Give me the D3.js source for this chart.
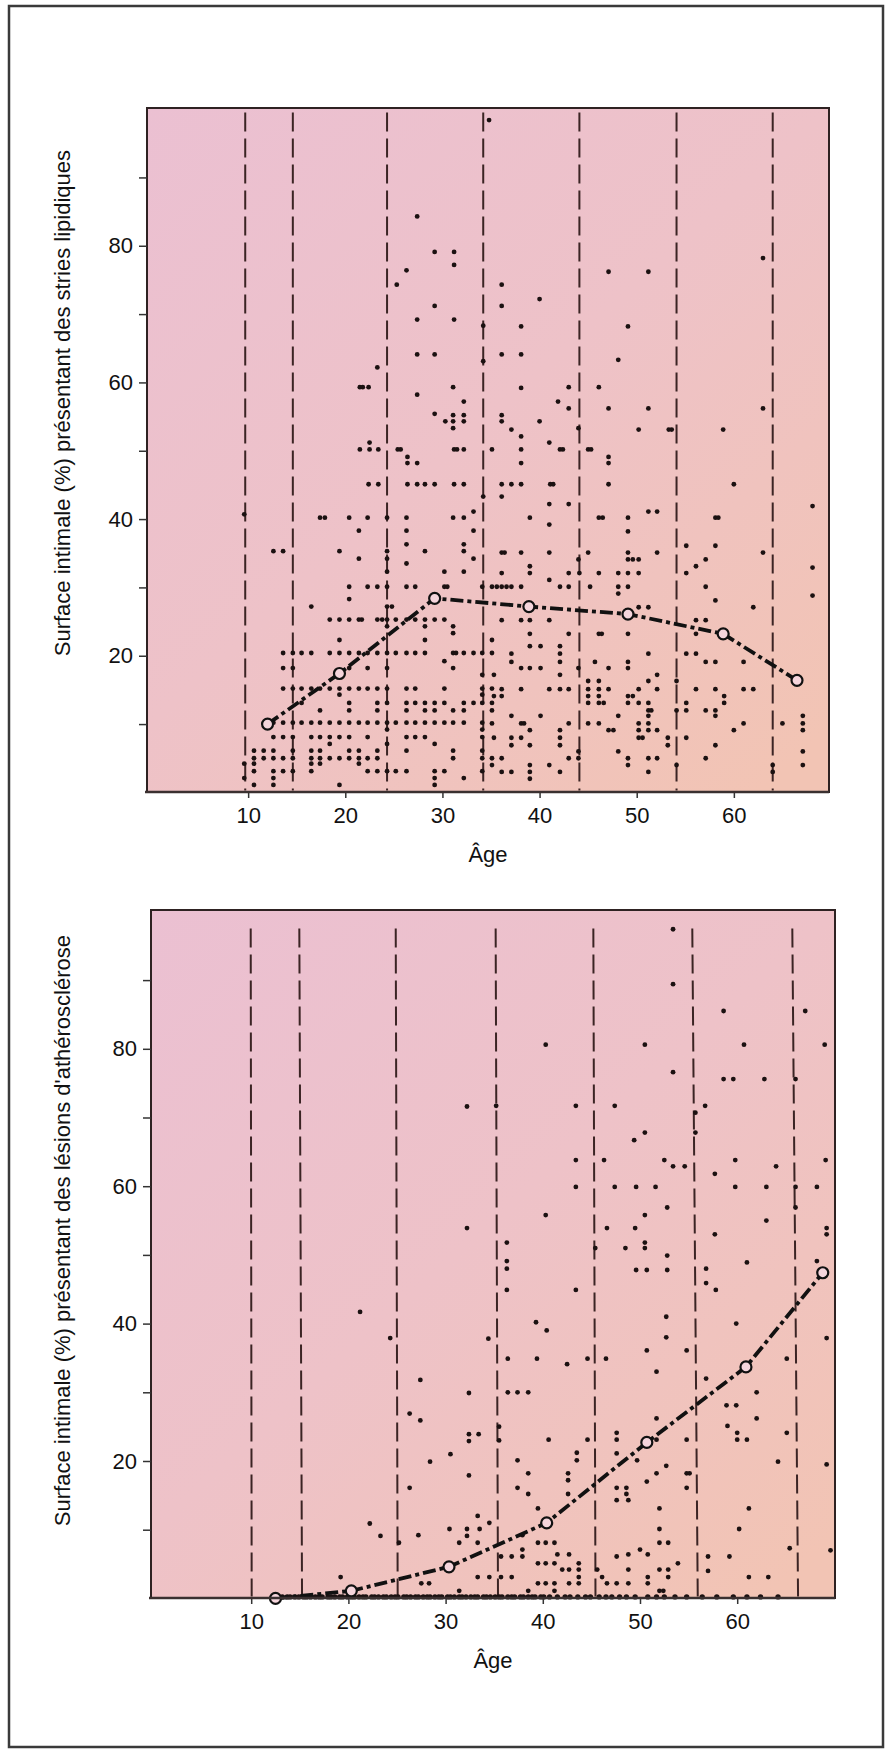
<!DOCTYPE html>
<html>
<head>
<meta charset="utf-8">
<script src="https://cdn.jsdelivr.net/npm/d3@7"></script>
<style>
  body { margin: 0; background: #fff; }
  text { font-family: "Liberation Sans", Arial, Helvetica, sans-serif; fill: #111; }
</style>
</head>
<body>
<script>
const width = 891, height = 1753;

// ---- data ----
const xTicks = [10, 20, 30, 40, 50, 60];
const yTicks = [10, 20, 30, 40, 50, 60, 70, 80, 90];

// top panel: fatty streaks
const stripsLabel = "Surface intimale (%) présentant des stries lipidiques";
const stripsBounds = [9.7, 14.6, 24.3, 34.2, 44.1, 54.1, 64.0];
const stripsMeans = [[12.0, 10.0], [19.4, 17.4], [29.2, 28.4], [38.9, 27.2], [49.1, 26.1], [58.9, 23.2], [66.5, 16.4]];
const stripsPoints = [
  [34.8,98.4],[27.4,84.3],[29.2,79.1],[31.2,79.1],[31.2,77.2],[26.3,76.4],[25.3,74.3],[29.2,71.2],[27.4,69.2],[31.2,69.2],
  [34.2,68.3],[27.4,64.1],[29.2,64.1],[34.2,63.1],[23.3,62.2],[21.5,59.3],[21.8,59.3],[22.4,59.3],[27.4,58.2],[31.1,59.3],
  [32.2,57.2],[29.2,55.4],[30.3,54.3],[31.1,55.2],[31.1,54.3],[32.2,55.2],[32.2,54.3],[31.1,53.3],[21.5,50.2],[22.5,51.2],
  [22.5,50.2],[23.4,50.2],[25.4,50.2],[25.7,50.2],[31.2,50.2],[31.5,50.2],[32.2,50.2],[35.1,50.2],[26.4,49.1],[26.4,48.2],
  [27.4,48.2],[22.4,45.1],[23.4,45.1],[26.4,45.1],[27.4,45.1],[28.2,45.1],[29.2,45.1],[31.2,45.1],[32.2,45.1],[34.2,43.3],
  [63.0,78.2],[47.1,76.2],[51.2,76.2],[36.1,74.3],[36.1,71.2],[40.0,72.2],[38.1,68.2],[49.1,68.2],[36.1,64.1],[38.1,64.1],
  [48.1,63.3],[38.1,59.2],[43.0,59.3],[46.1,59.3],[41.9,57.2],[43.0,56.2],[47.1,56.2],[51.2,56.2],[63.0,56.2],[36.1,55.2],
  [36.1,54.3],[40.0,54.3],[37.1,53.1],[44.0,53.3],[50.2,53.1],[53.3,53.1],[53.6,53.1],[58.9,53.1],[38.1,52.1],[38.1,50.2],
  [41.0,51.2],[42.1,50.2],[42.4,50.2],[45.0,50.2],[45.3,50.2],[47.1,49.1],[47.1,48.2],[38.1,48.2],[36.1,45.1],[37.1,45.1],
  [38.1,45.1],[41.1,45.1],[41.4,45.1],[47.1,45.1],[60.0,45.1],[36.1,43.3],
  [41.0,42.2],[43.0,42.2],[51.2,41.1],[52.1,41.1],[68.1,41.9],[33.2,41.1],[9.6,40.7],
  [17.4,40.2],[17.9,40.2],[20.4,40.2],[22.3,40.2],[24.3,40.2],[26.3,40.2],[31.1,40.2],[32.2,40.2],
  [39.0,40.2],[46.1,40.2],[46.5,40.2],[49.1,40.2],[58.1,40.2],[58.4,40.2],[41.0,39.2],
  [21.4,38.3],[26.3,38.3],[33.2,38.3],[49.1,38.2],[26.3,36.3],[32.2,36.3],[55.1,36.1],[58.1,36.1],
  [12.6,35.3],[13.6,35.3],[19.4,35.3],[24.3,35.3],[28.2,35.3],[32.2,35.3],
  [36.1,35.1],[36.4,35.1],[38.1,35.1],[41.0,35.1],[45.0,35.1],[49.1,35.1],[52.1,35.1],[63.0,35.1],
  [21.4,34.2],[24.3,34.2],[33.2,34.2],[44.0,34.1],[49.1,34.1],[49.6,34.1],[50.2,34.1],[57.1,34.1],
  [26.3,33.5],[39.0,33.1],[56.1,33.1],[68.1,32.9],
  [24.3,32.3],[30.2,32.3],[32.2,32.3],[36.1,32.1],[39.0,32.1],[43.0,32.1],[44.1,32.1],[46.1,32.1],[48.1,32.1],[49.1,32.1],[50.2,32.1],[55.1,32.1],
  [41.0,31.1],
  [20.4,30.1],[22.3,30.1],[23.3,30.1],[24.3,30.1],[26.3,30.1],[27.2,30.1],[30.2,30.1],[30.5,30.1],[34.1,30.1],[35.1,30.1],
  [35.6,30.1],[36.1,30.1],[36.6,30.1],[37.1,30.1],[38.1,30.1],[42.1,30.1],[43.0,30.1],[45.2,30.1],[48.1,30.1],[49.1,30.1],[57.1,30.1],
  [48.1,29.1],[68.1,28.8],[20.4,28.3],[58.1,28.1],
  [16.5,27.2],[24.3,27.2],[24.8,27.2],[50.2,27.1],[51.2,27.1],[62.0,27.1],
  [18.4,25.3],[19.4,25.3],[20.4,25.3],[21.4,25.3],[21.7,25.3],[23.3,25.3],[23.8,25.3],[24.3,25.3],[25.2,25.3],[26.3,25.3],
  [27.2,25.3],[28.2,25.3],[29.2,25.3],[30.2,25.3],[36.1,25.2],[38.1,25.2],[39.0,25.2],[41.0,25.2],[56.1,25.2],[57.1,25.2],
  [24.3,24.3],[28.2,24.3],[31.1,24.3],[31.1,23.3],
  [39.0,23.2],[43.0,23.2],[46.1,23.2],[46.4,23.2],[49.1,23.2],[56.1,23.2],
  [19.4,22.3],[28.2,22.3],[35.1,22.3],[39.0,21.4],[40.1,21.4],[42.1,21.4],
  [13.6,20.4],[14.6,20.4],[15.5,20.4],[16.5,20.4],[18.4,20.4],[19.4,20.4],[20.4,20.4],[21.4,20.4],[22.3,20.4],[23.3,20.4],
  [24.3,20.4],[25.2,20.4],[26.3,20.4],[27.2,20.4],[28.2,20.4],[31.1,20.4],[31.4,20.4],[32.2,20.4],[33.2,20.4],[34.1,20.4],[35.1,20.4],
  [37.1,20.3],[42.1,20.3],[51.2,20.3],[55.1,20.3],[56.1,20.3],
  [30.2,19.2],[37.1,19.1],[42.1,19.1],[45.7,19.1],[49.1,19.1],[57.1,19.1],[58.1,19.1],[61.0,19.1],
  [13.6,18.2],[14.6,18.2],[20.4,18.2],[22.3,18.2],[24.3,18.2],[31.1,18.2],
  [38.1,18.2],[39.0,18.2],[40.1,18.2],[44.0,18.2],[47.1,18.2],[49.1,18.2],
  [34.1,17.2],[35.3,17.2],[42.1,17.2],[52.1,17.2],[45.0,16.3],[46.1,16.3],[51.2,16.3],[54.1,16.3],
  [13.6,15.2],[14.6,15.2],[15.5,15.2],[16.5,15.2],[17.4,15.2],[18.4,15.2],[19.4,15.2],[20.4,15.2],[21.4,15.2],[22.3,15.2],
  [23.3,15.2],[24.3,15.2],[26.3,15.2],[27.2,15.2],[30.2,15.2],[34.1,15.2],[35.1,15.2],
  [36.1,15.1],[38.1,15.1],[41.0,15.1],[42.1,15.1],[43.0,15.1],[45.0,15.1],[46.1,15.1],[47.1,15.1],[50.2,15.1],[52.1,15.1],
  [56.1,15.1],[58.1,15.1],[61.0,15.1],[62.0,15.1],
  [19.4,14.3],[34.1,14.3],[35.3,14.1],[36.1,14.1],[45.0,14.1],[46.1,14.1],[49.1,14.1],[49.6,14.1],[59.0,14.1],
  [15.5,13.1],[20.4,13.1],[23.3,13.1],[24.3,13.1],[26.3,13.1],[27.2,13.1],[28.2,13.1],[29.2,13.1],[30.2,13.1],[32.2,13.1],
  [33.2,13.1],[34.1,13.1],[35.1,13.1],[45.0,13.1],[46.1,13.1],[46.6,13.1],[49.1,13.1],[50.2,13.1],[51.2,13.1],[55.1,13.1],[59.0,13.1],
  [17.4,12.0],[20.4,12.0],[23.3,12.0],[26.3,12.0],[28.2,12.0],[29.2,12.0],[31.1,12.0],[32.2,12.0],
  [35.1,12.0],[51.2,12.0],[51.5,12.0],[54.1,12.0],[55.1,12.0],[57.1,12.0],[58.1,12.0],
  [37.1,11.2],[40.1,11.2],[48.1,11.2],[51.2,11.2],[58.1,11.2],[67.1,11.2],
  [12.6,10.2],[13.6,10.2],[14.6,10.2],[15.5,10.2],[16.5,10.2],[17.4,10.2],[18.4,10.2],[19.4,10.2],[20.4,10.2],[21.4,10.2],
  [22.3,10.2],[23.3,10.2],[24.3,10.2],[25.2,10.2],[26.3,10.2],[27.2,10.2],[28.2,10.2],[29.2,10.2],[30.2,10.2],[31.1,10.2],
  [32.2,10.2],[34.1,10.2],[35.1,10.1],[38.1,10.1],[38.4,10.1],[43.0,10.1],[45.0,10.1],[46.1,10.1],[50.2,10.1],[51.2,10.1],
  [61.0,10.1],[65.0,10.1],[67.1,10.1],
  [24.3,9.2],[34.1,9.2],[39.0,9.1],[42.1,9.1],[47.1,9.1],[47.6,9.1],[50.2,9.1],[51.2,9.1],[52.1,9.1],[60.0,9.1],[67.1,9.1],
  [12.6,8.1],[13.6,8.1],[14.6,8.1],[16.5,8.1],[17.4,8.1],[18.4,8.1],[19.4,8.1],[20.4,8.1],[22.3,8.1],[26.3,8.1],[27.2,8.1],
  [28.2,8.1],[34.1,8.1],[35.3,8.0],[37.1,8.0],[38.1,8.0],[42.1,8.0],[50.2,8.0],[50.6,8.0],[53.2,8.0],[55.1,8.0],
  [18.4,7.1],[24.3,7.1],[29.2,7.1],[37.1,6.9],[39.0,6.9],[42.1,6.9],[53.2,6.9],[58.1,6.9],
  [10.6,6.1],[11.6,6.1],[12.6,6.1],[14.6,6.1],[16.5,6.1],[17.4,6.1],[20.4,6.1],[21.4,6.1],[23.3,6.1],[26.3,6.1],[31.1,6.1],
  [34.1,6.1],[44.0,6.0],[48.1,6.0],[67.1,6.0],
  [10.6,5.0],[11.6,5.0],[12.6,5.0],[13.6,5.0],[14.6,5.0],[16.5,5.0],[17.4,5.0],[18.4,5.0],[19.4,5.0],[20.4,5.0],[21.4,5.0],
  [22.3,5.0],[23.3,5.0],[31.1,5.0],[34.1,5.0],[35.1,5.0],[36.1,5.0],[43.0,5.0],[44.0,5.0],[49.1,5.0],[51.2,5.0],[52.1,5.0],[57.1,5.0],
  [9.6,4.2],[10.6,4.2],[16.5,4.2],[17.4,4.2],[21.4,4.2],[35.1,4.0],[39.0,4.0],[41.0,4.0],[49.1,4.0],[54.1,4.0],[64.0,4.0],[67.1,4.0],
  [10.6,3.1],[12.6,3.1],[13.6,3.1],[14.6,3.1],[16.5,3.1],[22.3,3.1],[23.3,3.1],[24.3,3.1],[25.2,3.1],[26.3,3.1],[29.2,3.1],
  [30.2,3.1],[34.1,3.1],[36.1,3.0],[37.1,3.0],[39.0,3.0],[42.1,3.0],[51.2,3.0],[64.0,3.0],
  [9.6,2.1],[12.6,2.1],[29.2,2.1],[32.2,2.1],[39.0,2.0],[10.6,1.1],[12.6,1.1],[19.4,1.1],[29.2,1.1]
];

// bottom panel: atherosclerotic lesions
const lesionsLabel = "Surface intimale (%) présentant des lésions d'athérosclérose";
const lesionsBoundsTop = [9.95, 14.95, 24.87, 35.15, 45.2, 55.38, 65.67];
const lesionsBoundsBottom = [10.05, 15.23, 25.07, 35.39, 45.42, 55.94, 66.26];
const lesionsMeans = [[12.5, 0], [20.3, 1.1], [30.35, 4.6], [40.4, 11.0], [50.7, 22.7], [60.9, 33.7], [68.8, 47.4]];
const lesionsPoints = [
  [32.2,71.6],[35.2,71.7],[32.2,53.9],[21.2,41.7],[24.3,37.9],[34.4,37.8],[27.4,31.8],[32.4,29.9],[26.3,26.9],[27.4,25.9],
  [32.4,23.9],[33.4,23.9],[32.4,22.9],[35.5,25.0],[35.5,23.0],[28.4,19.9],[30.5,21.0],[32.4,17.9],[26.3,16.1],
  [53.4,97.4],[53.4,89.4],[58.6,85.5],[67.0,85.5],[40.3,80.6],[50.5,80.6],[60.7,80.6],[69.0,80.6],[53.4,76.6],[58.6,75.6],
  [59.6,75.6],[62.8,75.6],[66.0,75.6],[43.4,71.7],[47.4,71.7],[56.7,71.7],[55.7,70.7],[50.5,67.8],[49.4,66.7],[55.7,67.8],
  [43.4,63.8],[46.3,63.8],[52.5,63.8],[53.4,62.9],[54.6,62.9],[59.8,63.8],[64.0,62.9],[69.1,63.8],[57.7,61.8],[43.4,59.9],
  [47.4,59.9],[49.6,59.9],[51.6,59.9],[59.8,59.9],[63.0,59.9],[66.0,59.9],[68.2,59.9],[52.8,56.9],[40.3,55.8],[50.5,55.8],
  [66.0,56.9],[63.0,55.0],[46.6,53.9],[49.5,53.9],[69.2,53.9],[69.2,53.0],[57.7,53.0],[36.3,51.8],[50.5,51.8],[45.4,51.0],
  [48.5,51.0],[50.5,51.0],[36.3,49.1],[36.3,48.0],[52.8,49.9],[61.0,48.9],[49.6,47.8],[50.7,47.8],[52.8,47.8],[56.8,48.0],
  [56.8,45.9],[68.2,49.1],[36.3,44.9],[43.4,44.9],[57.8,44.9],
  [52.7,41.0],[39.3,40.2],[40.4,39.0],[59.9,40.0],[52.7,38.0],[69.2,37.9],[36.4,34.9],[39.4,34.9],[44.6,34.9],[46.5,34.9],
  [42.5,34.1],[50.7,36.1],[54.8,36.1],[51.7,33.0],[56.8,32.0],[36.4,30.0],[37.4,30.0],[38.5,30.0],[62.0,30.0],[58.9,28.1],
  [59.9,28.1],[65.1,34.9],[51.7,26.2],[62.0,26.2],[59.0,25.1],[40.6,23.1],[44.6,23.1],[47.6,24.1],[47.6,23.1],[51.7,23.1],
  [54.8,23.1],[60.0,24.1],[60.0,23.1],[61.0,23.1],[65.1,24.1],[43.5,21.2],[43.5,20.1],[47.6,21.1],[49.7,20.1],[37.4,20.1],
  [64.2,19.9],[52.7,19.3],[69.2,19.5],[38.5,18.2],[42.6,18.2],[42.6,17.2],[51.7,18.2],[54.8,18.2],[55.1,18.2],[50.7,17.0],
  [37.4,16.1],[38.5,15.2],[42.6,15.2],[47.6,16.1],[48.6,16.1],[48.6,15.2],[54.8,16.1],
  [22.2,10.9],[23.3,9.1],[27.2,9.2],[25.2,8.1],[30.4,10.1],[32.2,10.1],[33.5,10.1],[32.2,9.1],[33.3,8.1],[31.4,8.1],
  [33.3,12.0],[34.5,11.0],[39.5,13.1],[47.6,14.3],[48.8,14.3],[52.0,13.1],[61.2,13.1],[60.2,10.1],[52.0,10.1],[52.0,8.1],
  [52.9,8.1],[65.4,7.3],[69.6,7.0],[57.0,6.1],[59.2,6.1],[57.0,4.0],[61.2,3.1],[63.2,3.1],[50.0,7.1],[48.8,6.4],
  [50.8,6.4],[47.6,6.1],[53.9,5.1],[48.8,4.2],[52.0,4.2],[52.9,4.2],[50.8,3.1],[52.9,3.1],[50.8,2.2],[48.8,2.2],
  [52.0,1.1],[52.4,1.1],[39.5,8.1],[40.3,8.1],[41.2,8.1],[37.9,9.2],[37.9,7.1],[35.7,6.1],[36.8,6.1],[37.9,6.1],
  [41.5,6.4],[42.7,6.4],[43.7,5.1],[43.7,4.2],[43.7,3.1],[42.0,4.2],[42.7,4.2],[45.6,4.2],[39.5,5.1],[40.3,5.1],
  [41.2,5.1],[33.3,3.1],[34.5,3.1],[35.7,3.1],[36.8,3.1],[39.5,2.2],[40.3,2.2],[41.2,2.2],[42.7,2.2],[43.7,2.2],
  [46.6,2.2],[47.6,2.2],[27.5,2.2],[28.3,2.2],[19.2,3.1],[38.5,1.1],[41.2,1.1],[46.1,3.1],[31.4,1.1]
];
// the dense band of zero-lesion cases lying on the age axis
const lesionsZeroAges = [
  12.8,13.2,13.7,14.0,14.5,14.9,15.4,15.7,16.1,16.6,17.0,17.3,17.9,18.2,18.6,19.1,19.4,19.9,20.3,20.6,
  21.1,21.5,21.8,22.4,22.7,23.1,23.6,23.9,24.4,24.8,25.1,25.7,26.0,26.4,26.9,27.2,27.7,28.1,28.4,28.9,
  29.3,29.6,30.2,30.5,30.9,31.4,31.7,32.1,32.6,33.0,33.3,33.9,34.2,34.6,35.1,35.5,35.8,36.4,36.8,37.1,
  37.7,38.0,38.5,38.9,39.2,39.8,40.1,40.7,41.5,42.3,42.8,43.6,44.4,44.9,45.8,46.5,47.1,47.9,48.6,49.5,
  50.8,51.7,52.5,53.6,54.8,56.4,57.9,59.6,61.0,62.4,64.2
];

// ---- drawing ----
const svg = d3.select("body").append("svg")
  .attr("width", width)
  .attr("height", height);

const defs = svg.append("defs");
const grad = defs.append("linearGradient")
  .attr("id", "paper")
  .attr("x1", 0).attr("y1", 0).attr("x2", 0.9).attr("y2", 1);
grad.append("stop").attr("offset", "0%").attr("stop-color", "#ebc0d2");
grad.append("stop").attr("offset", "50%").attr("stop-color", "#eec2c8");
grad.append("stop").attr("offset", "100%").attr("stop-color", "#f2c4b4");

// outer frame
svg.append("rect")
  .attr("x", 9).attr("y", 6)
  .attr("width", 874).attr("height", 1741)
  .attr("fill", "none")
  .attr("stroke", "#3a3a3a")
  .attr("stroke-width", 2.5);

function drawPanel(p) {
  const x = d3.scaleLinear().domain([0, 70]).range(p.xRange);
  const y = d3.scaleLinear().domain([0, 100]).range(p.yRange);
  const g = svg.append("g");

  // plot background
  g.append("rect")
    .attr("x", p.box[0]).attr("y", p.box[1])
    .attr("width", p.box[2] - p.box[0]).attr("height", p.box[3] - p.box[1])
    .attr("fill", "url(#paper)")
    .attr("stroke", "#2e2222")
    .attr("stroke-width", 2);

  // age-group boundaries
  g.selectAll(".bound")
    .data(p.boundsTop.map((a, i) => [a, p.boundsBottom[i]]))
    .enter().append("line")
    .attr("x1", d => x(d[0])).attr("y1", y(p.boundTopValue))
    .attr("x2", d => x(d[1])).attr("y2", y(0) - 2)
    .attr("stroke", "#3b2424")
    .attr("stroke-width", 2)
    .attr("stroke-dasharray", "19,7");

  // individual cases
  g.selectAll(".dot")
    .data(p.points)
    .enter().append("circle")
    .attr("cx", d => x(d[0]))
    .attr("cy", d => y(d[1]))
    .attr("r", 2.4)
    .attr("fill", "#1b1111");

  if (p.zeroAges) {
    g.selectAll(".zero")
      .data(p.zeroAges)
      .enter().append("circle")
      .attr("cx", d => x(d))
      .attr("cy", y(0) - 1.5)
      .attr("r", 2.7)
      .attr("fill", "#1b1111");
  }

  // mean curve
  const line = d3.line().x(d => x(d[0])).y(d => y(d[1]));
  g.append("path")
    .datum(p.means)
    .attr("d", line)
    .attr("fill", "none")
    .attr("stroke", "#111")
    .attr("stroke-width", 3.8)
    .attr("stroke-dasharray", "13,4,4,4");

  g.selectAll(".mean")
    .data(p.means)
    .enter().append("circle")
    .attr("cx", d => x(d[0]))
    .attr("cy", d => y(d[1]))
    .attr("r", 5.5)
    .attr("fill", "#f5d5dc")
    .attr("stroke", "#111")
    .attr("stroke-width", 2.2);

  // axes
  const yAxis = d3.axisLeft(y)
    .tickValues(yTicks)
    .tickSize(8)
    .tickSizeOuter(0)
    .tickPadding(6)
    .tickFormat(d => d % 20 === 0 ? d : "");
  const ya = g.append("g")
    .attr("transform", `translate(${p.box[0]},0)`)
    .call(yAxis);
  ya.select(".domain").remove();
  ya.selectAll(".tick line").attr("stroke", "#333").attr("stroke-width", 1.5);
  ya.selectAll("text").attr("font-size", 22).attr("fill", "#111");

  const xAxis = d3.axisBottom(x)
    .tickValues(xTicks)
    .tickSize(6)
    .tickSizeOuter(0)
    .tickPadding(9);
  const xa = g.append("g")
    .attr("transform", `translate(0,${p.box[3]})`)
    .call(xAxis);
  xa.select(".domain").remove();
  xa.selectAll(".tick line").attr("stroke", "#333").attr("stroke-width", 1.5);
  xa.selectAll("text").attr("font-size", 22).attr("fill", "#111");

  // axis baseline a little heavier, like the print
  g.append("line")
    .attr("x1", p.box[0] - 2).attr("x2", p.box[2])
    .attr("y1", p.box[3]).attr("y2", p.box[3])
    .attr("stroke", "#3a3030").attr("stroke-width", 2.5);

  g.append("text")
    .attr("x", (p.box[0] + p.box[2]) / 2)
    .attr("y", p.box[3] + 70)
    .attr("text-anchor", "middle")
    .attr("font-size", 22)
    .text("Âge");

  g.append("text")
    .attr("transform", `translate(70,${p.labelEnd}) rotate(-90)`)
    .attr("text-anchor", "end")
    .attr("font-size", 22)
    .text(p.label);
}

drawPanel({
  box: [147, 108, 829, 792],
  xRange: [151, 831],
  yRange: [792.4, 109.1],
  boundsTop: stripsBounds,
  boundsBottom: stripsBounds,
  boundTopValue: 99.5,
  points: stripsPoints,
  means: stripsMeans,
  label: stripsLabel,
  labelEnd: 150
});

drawPanel({
  box: [151, 910, 835, 1598],
  xRange: [154, 834.4],
  yRange: [1598.4, 911.4],
  boundsTop: lesionsBoundsTop,
  boundsBottom: lesionsBoundsBottom,
  boundTopValue: 97.5,
  points: lesionsPoints,
  zeroAges: lesionsZeroAges,
  means: lesionsMeans,
  label: lesionsLabel,
  labelEnd: 935
});
</script>
</body>
</html>
